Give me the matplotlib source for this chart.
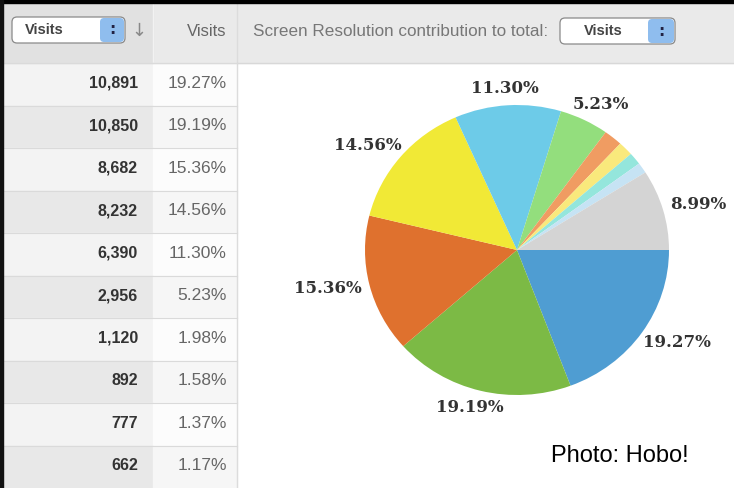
import numpy as np
import matplotlib.pyplot as plt
from matplotlib.patches import Rectangle, FancyBboxPatch

W, H = 734, 488

visits = [10891, 10850, 8682, 8232, 6390, 2956, 1120, 892, 777, 662]
shares = [19.27, 19.19, 15.36, 14.56, 11.30, 5.23, 1.98, 1.58, 1.37, 1.17]
other_share = 8.99
slice_colors = ['#4f9dd2', '#7cba45', '#df712e', '#f1e936', '#6dcbe8',
                '#93de7d', '#f09c62', '#f9e97c', '#94e6dc', '#c6e3f4', '#d4d4d4']

HEADER_H = 63
ROW_H = (H - HEADER_H) / len(visits)
COL1 = (3, 153)
COL2 = (153, 237)

fig = plt.figure(figsize=(W / 100, H / 100), dpi=100)
bg = fig.add_axes([0, 0, 1, 1])
bg.set_xlim(0, W)
bg.set_ylim(H, 0)
bg.axis('off')

# background pieces
bg.add_patch(Rectangle((0, 0), W, H, color='white', zorder=0))
bg.add_patch(Rectangle((0, 0), W, HEADER_H, color='#eaeaea', zorder=1))
bg.add_patch(Rectangle((COL1[0], 0), COL1[1] - COL1[0], HEADER_H, color='#e1e1e1', zorder=1))
bg.add_patch(Rectangle((0, 0), W, 3, color='black', zorder=3))
bg.add_patch(Rectangle((0, 0), 3, H, color='#111111', zorder=3))
bg.plot([COL2[1], COL2[1]], [0, H], color='#dcdcdc', lw=1, zorder=2)
bg.plot([COL1[1], COL1[1]], [0, HEADER_H], color='#f2f2f2', lw=1, zorder=2)
bg.plot([0, W], [HEADER_H, HEADER_H], color='#d8d8d8', lw=1, zorder=2)

# table rows
for i, (v, s) in enumerate(zip(visits, shares)):
    y0 = HEADER_H + i * ROW_H
    c1 = '#f3f3f3' if i % 2 == 0 else '#e8e8e8'
    c2 = '#fcfcfc' if i % 2 == 0 else '#f6f6f6'
    bg.add_patch(Rectangle((COL1[0], y0), COL1[1] - COL1[0], ROW_H, color=c1, zorder=1))
    bg.add_patch(Rectangle((COL2[0], y0), COL2[1] - COL2[0], ROW_H, color=c2, zorder=1))
    bg.plot([COL1[0], COL2[1]], [y0, y0], color='#dadada', lw=0.8, zorder=2)
    yc = y0 + ROW_H / 2 - 1
    bg.text(138, yc, f'{v:,}', ha='right', va='center', fontsize=11.5,
            fontweight='bold', color='#333333', family='Liberation Sans', zorder=4)
    bg.text(227, yc, f'{s:.2f}%', ha='right', va='center', fontsize=12.5,
            color='#666666', family='Liberation Sans', zorder=4)


def dropdown(x0, x1, y0, y1, sx0, tx):
    bg.add_patch(FancyBboxPatch((x0, y0), x1 - x0, y1 - y0,
                                boxstyle='round,pad=0,rounding_size=5',
                                fc='white', ec='#8a8a8a', lw=0.9, zorder=4))
    bg.add_patch(FancyBboxPatch((sx0, y0 + 1), x1 - sx0 - 1, y1 - y0 - 2,
                                boxstyle='round,pad=0,rounding_size=4',
                                fc='#8fbdee', ec='none', zorder=5))
    xm = (sx0 + x1) / 2
    bg.text(xm, (y0 + y1) / 2, ':', ha='center', va='center', fontsize=11,
            fontweight='bold', color='#222244', zorder=6)
    bg.text(tx, (y0 + y1) / 2, 'Visits', ha='left', va='center', fontsize=10.5,
            fontweight='bold', color='#444444', family='Liberation Sans', zorder=6)


# header widgets
dropdown(12, 125, 17, 43, 100, 25)
bg.text(139, 31, '↓', ha='center', va='center', fontsize=13, color='#888888',
        family='DejaVu Sans', zorder=4)
bg.text(226, 32, 'Visits', ha='right', va='center', fontsize=12,
        color='#666666', family='Liberation Sans', zorder=4)
bg.text(253, 31, 'Screen Resolution contribution to total:', ha='left', va='center',
        fontsize=12.3, color='#777777', family='Liberation Sans', zorder=4)
dropdown(560, 675, 18, 44, 648, 584)

bg.text(551, 456, 'Photo: Hobo!', ha='left', va='center', fontsize=17,
        color='black', family='Liberation Sans', zorder=4)

# pie chart
cx, cy, rx, ry = 517, 250, 152, 145
half_w, half_h = 210, 200
ax = fig.add_axes([(cx - half_w) / W, (H - cy - half_h) / H, 2 * half_w / W, 2 * half_h / H])
pie_vals = shares + [other_share]
wedges, _ = ax.pie(pie_vals, colors=slice_colors, startangle=0, counterclock=False,
                   wedgeprops=dict(linewidth=0))
ax.set_aspect('auto')
ax.set_xlim(-half_w / rx, half_w / rx)
ax.set_ylim(-half_h / ry, half_h / ry)
ax.axis('off')

# labels sit just outside the rim, text box touching an ellipse around it
renderer = fig.canvas.get_renderer()
for w, val in zip(wedges, pie_vals):
    if val < 5:
        continue
    ang = np.deg2rad((w.theta1 + w.theta2) / 2)
    t = ax.text(0, 0, f'{val:.2f}%', ha='center', va='center', fontsize=12,
                fontweight='bold', color='#333333', family='DejaVu Serif',
                clip_on=False)
    bb = t.get_window_extent(renderer)
    hw = bb.width / 2 / rx
    hh = bb.height / 2 / ry
    r = 1.06
    t.set_position((np.cos(ang) * (r + hw), np.sin(ang) * (r + hh)))

fig.savefig('out.png', dpi=100)
